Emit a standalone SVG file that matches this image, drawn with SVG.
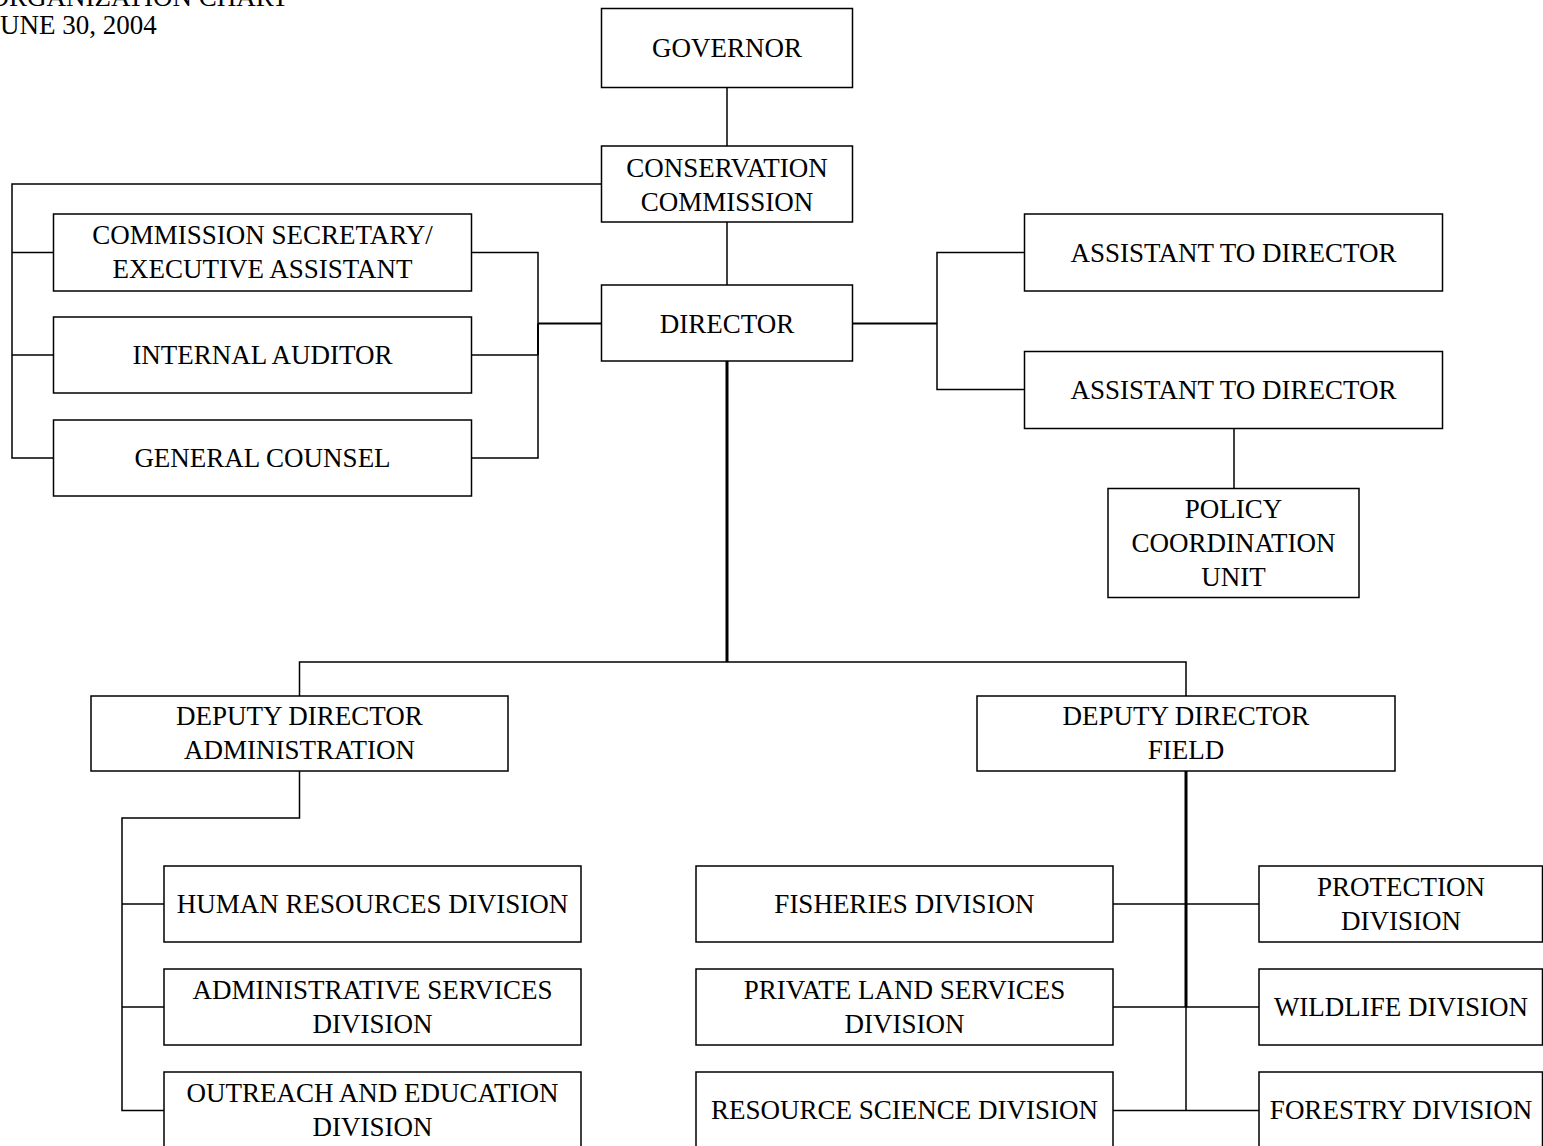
<svg xmlns="http://www.w3.org/2000/svg" width="1543" height="1146" viewBox="0 0 1543 1146">
<style>
  .box { fill: #ffffff; stroke: #000000; stroke-width: 1.5; }
  .t { font-family: 'Liberation Serif', 'Times New Roman', serif; font-size: 27px; fill: #000000; text-anchor: middle; }
  .title { font-family: 'Liberation Serif', 'Times New Roman', serif; font-size: 27px; fill: #000000; }
  .ln { fill: none; stroke: #000000; stroke-width: 1.5; }
  .thick { fill: none; stroke: #000000; stroke-width: 3; }
  .mid { fill: none; stroke: #000000; stroke-width: 2; }
</style>
<rect x="0" y="0" width="1543" height="1146" fill="#ffffff"/>

<g id="title">
  <text class="title" x="-10.5" y="6">ORGANIZATION CHART</text>
  <text class="title" x="-10.5" y="34">JUNE 30, 2004</text>
</g>

<g id="connectors">
  <path class="ln" d="M727 87.5 V146"/>
  <path class="ln" d="M727 222 V285"/>
  <path class="thick" d="M727 361 V662"/>
  <path class="ln" d="M299.5 696 V662 H1186 V696"/>
  <path class="ln" d="M601.5 184 H12 V458 H53.5"/>
  <path class="ln" d="M12 252.5 H53.5"/>
  <path class="ln" d="M12 355 H53.5"/>
  <path class="ln" d="M471.5 252.5 H538 V458 H471.5"/>
  <path class="ln" d="M471.5 355 H538"/>
  <path class="mid" d="M538 323.5 H601.5"/>
  <path class="mid" d="M538 323.5 V355"/>
  <path class="mid" d="M852.5 323.5 H937"/>
  <path class="ln" d="M1024.5 252.5 H937 V389.5 H1024.5"/>
  <path class="ln" d="M1234 428.5 V488.5"/>
  <path class="ln" d="M299.5 771 V818 H122 V1110.5 H164"/>
  <path class="ln" d="M122 904 H164"/>
  <path class="ln" d="M122 1007 H164"/>
  <path class="thick" d="M1186 771 V1007"/>
  <path class="ln" d="M1186 1007 V1110.5"/>
  <path class="ln" d="M1113 904 H1259"/>
  <path class="ln" d="M1113 1007 H1259"/>
  <path class="ln" d="M1113 1110.5 H1259"/>
</g>

<g id="governor">
  <rect class="box" x="601.5" y="8.5" width="251" height="79"/>
  <text class="t" x="727" y="57">GOVERNOR</text>
</g>
<g id="conservation-commission">
  <rect class="box" x="601.5" y="146" width="251" height="76"/>
  <text class="t" x="727" y="177">CONSERVATION</text>
  <text class="t" x="727" y="210.5">COMMISSION</text>
</g>
<g id="director">
  <rect class="box" x="601.5" y="285" width="251" height="76"/>
  <text class="t" x="727" y="332.5">DIRECTOR</text>
</g>
<g id="commission-secretary">
  <rect class="box" x="53.5" y="214" width="418" height="77"/>
  <text class="t" x="262.5" y="244">COMMISSION SECRETARY/</text>
  <text class="t" x="262.5" y="278">EXECUTIVE ASSISTANT</text>
</g>
<g id="internal-auditor">
  <rect class="box" x="53.5" y="317" width="418" height="76"/>
  <text class="t" x="262.5" y="364">INTERNAL AUDITOR</text>
</g>
<g id="general-counsel">
  <rect class="box" x="53.5" y="420" width="418" height="76"/>
  <text class="t" x="262.5" y="467">GENERAL COUNSEL</text>
</g>
<g id="assistant-1">
  <rect class="box" x="1024.5" y="214" width="418" height="77"/>
  <text class="t" x="1233.5" y="262">ASSISTANT TO DIRECTOR</text>
</g>
<g id="assistant-2">
  <rect class="box" x="1024.5" y="351.5" width="418" height="77"/>
  <text class="t" x="1233.5" y="399">ASSISTANT TO DIRECTOR</text>
</g>
<g id="policy-coordination-unit">
  <rect class="box" x="1108" y="488.5" width="251" height="109"/>
  <text class="t" x="1233.5" y="518">POLICY</text>
  <text class="t" x="1233.5" y="552">COORDINATION</text>
  <text class="t" x="1233.5" y="586">UNIT</text>
</g>
<g id="deputy-director-administration">
  <rect class="box" x="91" y="696" width="417" height="75"/>
  <text class="t" x="299.5" y="725">DEPUTY DIRECTOR</text>
  <text class="t" x="299.5" y="758.5">ADMINISTRATION</text>
</g>
<g id="deputy-director-field">
  <rect class="box" x="977" y="696" width="418" height="75"/>
  <text class="t" x="1186" y="725">DEPUTY DIRECTOR</text>
  <text class="t" x="1186" y="758.5">FIELD</text>
</g>
<g id="human-resources">
  <rect class="box" x="164" y="866" width="417" height="76"/>
  <text class="t" x="372.5" y="913">HUMAN RESOURCES DIVISION</text>
</g>
<g id="administrative-services">
  <rect class="box" x="164" y="969" width="417" height="76"/>
  <text class="t" x="372.5" y="999">ADMINISTRATIVE SERVICES</text>
  <text class="t" x="372.5" y="1033">DIVISION</text>
</g>
<g id="outreach-education">
  <rect class="box" x="164" y="1072" width="417" height="80"/>
  <text class="t" x="372.5" y="1102">OUTREACH AND EDUCATION</text>
  <text class="t" x="372.5" y="1136">DIVISION</text>
</g>
<g id="fisheries">
  <rect class="box" x="696" y="866" width="417" height="76"/>
  <text class="t" x="904.5" y="913">FISHERIES DIVISION</text>
</g>
<g id="private-land-services">
  <rect class="box" x="696" y="969" width="417" height="76"/>
  <text class="t" x="904.5" y="999">PRIVATE LAND SERVICES</text>
  <text class="t" x="904.5" y="1033">DIVISION</text>
</g>
<g id="resource-science">
  <rect class="box" x="696" y="1072" width="417" height="80"/>
  <text class="t" x="904.5" y="1119">RESOURCE SCIENCE DIVISION</text>
</g>
<g id="protection">
  <rect class="box" x="1259" y="866" width="283.5" height="76"/>
  <text class="t" x="1401" y="896">PROTECTION</text>
  <text class="t" x="1401" y="930">DIVISION</text>
</g>
<g id="wildlife">
  <rect class="box" x="1259" y="969" width="283.5" height="76"/>
  <text class="t" x="1401" y="1016">WILDLIFE DIVISION</text>
</g>
<g id="forestry">
  <rect class="box" x="1259" y="1072" width="283.5" height="80"/>
  <text class="t" x="1401" y="1119">FORESTRY DIVISION</text>
</g>
</svg>
